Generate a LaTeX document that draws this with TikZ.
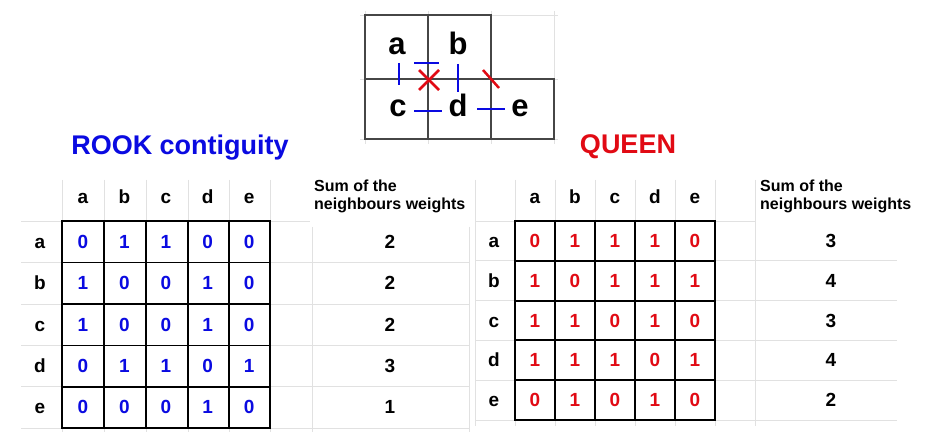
\documentclass[tikz,border=0pt]{standalone}
\usepackage{fontspec}
\setmainfont{Liberation Sans}
\definecolor{blueA}{RGB}{10,10,225}
\definecolor{redA}{RGB}{225,10,20}
\definecolor{lightgrid}{RGB}{225,225,225}
\definecolor{darkline}{RGB}{70,70,70}
\begin{document}
\begin{tikzpicture}[x=1pt,y=-1pt,
  light/.style={draw=lightgrid,line width=0.9pt},
  boldgrid/.style={draw=black,line width=1.9pt},
  mapline/.style={draw=darkline,line width=2.8pt},
  bluemark/.style={draw=blueA,line width=2.5pt},
  redmark/.style={draw=redA,line width=2.5pt},
  maplabel/.style={font=\fontsize{31}{31}\selectfont\bfseries,inner sep=0pt,anchor=base},
  hdr/.style={font=\fontsize{19}{19}\selectfont\bfseries,inner sep=0pt,anchor=base},
  numblue/.style={hdr,text=blueA},
  numred/.style={hdr,text=redA},
  sumhdr/.style={font=\fontsize{16}{18}\selectfont\bfseries,align=left,inner sep=0pt,anchor=west},
  title/.style={font=\fontsize{27}{27}\selectfont\bfseries,inner sep=0pt}]
\useasboundingbox (0,0) rectangle (945,443);
\fill[white] (0,0) rectangle (945,443);

% ---------- top map ----------
\foreach \yy in {15,79,139} \draw[light] (360,\yy) -- (558,\yy);
\foreach \xx in {365,428,491,554} \draw[light] (\xx,11) -- (\xx,144);
\draw[mapline] (365,15) rectangle (491,79);
\draw[mapline] (365,79) rectangle (554,139);
\draw[mapline] (428,15) -- (428,139);
\draw[mapline] (491,79) -- (491,139);
\node[maplabel] (ma) at (397,55) {a};
\node[maplabel] (mb) at (458,55) {b};
\node[maplabel] (mc) at (398,117) {c};
\node[maplabel] (md) at (458,117) {d};
\node[maplabel] (me) at (520,117) {e};
\draw[bluemark] (399,63) -- (399,85);
\draw[bluemark] (414,63) -- (439,63);
\draw[bluemark] (458,64) -- (458,92);
\draw[bluemark] (414,111) -- (442,111);
\draw[bluemark] (477,109) -- (505,109);
\draw[redmark] (419,70) -- (439,90);
\draw[redmark] (419,90) -- (439,70);
\draw[redmark] (483,70) -- (499,88);

% ---------- titles ----------
\node[title,text=blueA] (rooktitle) at (180,148) {ROOK contiguity};
\node[title,text=redA] (queentitle) at (628,147) {QUEEN};

% ---------- left table light grid ----------
\foreach \xx in {62,104,146,188,229,270} \draw[light] (\xx,180) -- (\xx,432);
\draw[light] (21,221) -- (310,221);
\foreach \yy in {262.5,304,345.5,386.8,428} \draw[light] (21,\yy) -- (469,\yy);
\draw[light] (312,227) -- (312,432);
\draw[light] (469,227) -- (469,432);

% ---------- right table light grid ----------
\foreach \xx in {475,515,555,595,635,675,715,755} \draw[light] (\xx,180) -- (\xx,426);
\draw[light] (475,221) -- (755,221);
\foreach \yy in {260.8,300.6,340.4,380.2,420} \draw[light] (475,\yy) -- (897,\yy);

% ---------- left table ----------
\draw[boldgrid] (62,221) rectangle (270,428);
\foreach \xx in {104,146,188,229} \draw[boldgrid] (\xx,221) -- (\xx,428);
\foreach \yy in {262.5,304,345.5,386.8} \draw[boldgrid] (62,\yy) -- (270,\yy);
\foreach \l [count=\i] in {a,b,c,d,e} {
  \node[hdr] (LH\i) at ({62+(\i-0.5)*41.6},204) {\l};
  \node[hdr] (LR\i) at (40,{221+(\i-0.5)*41.4+6.6}) {\l};
}
\foreach \row [count=\r] in {{0,1,1,0,0},{1,0,0,1,0},{1,0,0,1,0},{0,1,1,0,1},{0,0,0,1,0}} {
  \foreach \v [count=\c] in \row {
    \node[numblue] (L\r-\c) at ({62+(\c-0.5)*41.6},{221+(\r-0.5)*41.4+6.6}) {\v};
  }
}
\node[sumhdr] (LSH) at (314,196) {Sum of the\\neighbours weights};
\foreach \s [count=\r] in {2,2,2,3,1}
  \node[hdr] (LS\r) at (390,{221+(\r-0.5)*41.4+6.6}) {\s};

% ---------- right table ----------
\draw[boldgrid] (515,221) rectangle (715,420);
\foreach \xx in {555,595,635,675} \draw[boldgrid] (\xx,221) -- (\xx,420);
\foreach \yy in {260.8,300.6,340.4,380.2} \draw[boldgrid] (515,\yy) -- (715,\yy);
\foreach \l [count=\i] in {a,b,c,d,e} {
  \node[hdr] (RH\i) at ({515+(\i-0.5)*40},204) {\l};
  \node[hdr] (RR\i) at (494,{221+(\i-0.5)*39.8+6.6}) {\l};
}
\foreach \row [count=\r] in {{0,1,1,1,0},{1,0,1,1,1},{1,1,0,1,0},{1,1,1,0,1},{0,1,0,1,0}} {
  \foreach \v [count=\c] in \row {
    \node[numred] (R\r-\c) at ({515+(\c-0.5)*40},{221+(\r-0.5)*39.8+6.6}) {\v};
  }
}
\node[sumhdr] (RSH) at (760,196) {Sum of the\\neighbours weights};
\foreach \s [count=\r] in {3,4,3,4,2}
  \node[hdr] (RS\r) at (831,{221+(\r-0.5)*39.8+6.6}) {\s};
\end{tikzpicture}
\end{document}
